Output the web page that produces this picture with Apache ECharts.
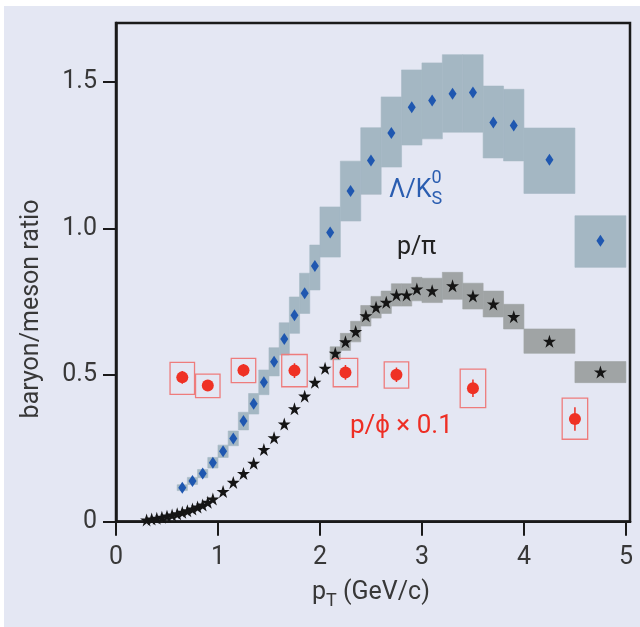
<!DOCTYPE html>
<html><head><meta charset="utf-8">
<script src="https://cdn.jsdelivr.net/npm/echarts@6/dist/echarts.min.js"></script>
<style>
html,body{margin:0;padding:0;background:#ffffff;width:640px;height:627px;overflow:hidden}
#c{position:absolute;left:4px;top:6px;width:636px;height:621px;background:#e4e7f3}
</style>
</head><body><div id="c"></div>
<script>
// ---------- data ----------
// Lambda / K0S (blue diamonds) with systematic boxes
const lamX    = [0.65,0.75,0.85,0.95,1.05,1.15,1.25,1.35,1.45,1.55,1.65,1.75,1.85,1.95,2.1,2.3,2.5,2.7,2.9,3.1,3.3,3.5,3.7,3.9,4.25,4.75];
const lamY    = [0.116,0.139,0.164,0.201,0.240,0.284,0.343,0.402,0.475,0.545,0.623,0.704,0.779,0.872,0.986,1.127,1.231,1.325,1.413,1.436,1.459,1.463,1.361,1.351,1.234,0.958];
const lamLo   = [0.106,0.127,0.150,0.183,0.219,0.259,0.313,0.367,0.433,0.497,0.568,0.642,0.710,0.790,0.902,1.025,1.116,1.209,1.284,1.305,1.328,1.328,1.240,1.230,1.119,0.867];
const lamHi   = [0.126,0.151,0.178,0.219,0.261,0.309,0.373,0.437,0.517,0.593,0.678,0.766,0.847,0.943,1.073,1.229,1.343,1.448,1.540,1.564,1.592,1.592,1.485,1.474,1.342,1.043];
const lamXErr = [0.05,0.05,0.05,0.05,0.05,0.05,0.05,0.05,0.05,0.05,0.05,0.05,0.05,0.05,0.1,0.1,0.1,0.1,0.1,0.1,0.1,0.1,0.1,0.1,0.25,0.25];

// p / pi (black stars)
const ppiX = [0.30,0.35,0.40,0.45,0.50,0.55,0.60,0.65,0.70,0.75,0.80,0.85,0.90,0.95,1.05,1.15,1.25,1.35,1.45,1.55,1.65,1.75,1.85,1.95,2.05,2.15,2.25,2.35,2.45,2.55,2.65,2.75,2.85,2.95,3.1,3.3,3.5,3.7,3.9,4.25,4.75];
const ppiY = [0.006,0.009,0.012,0.015,0.019,0.023,0.027,0.032,0.037,0.043,0.050,0.057,0.066,0.077,0.103,0.134,0.164,0.199,0.246,0.286,0.333,0.385,0.428,0.475,0.523,0.574,0.613,0.648,0.702,0.731,0.748,0.773,0.773,0.793,0.787,0.804,0.769,0.742,0.699,0.615,0.510];
// p / pi systematic boxes
const ppiSysX    = [2.15,2.25,2.35,2.45,2.55,2.65,2.75,2.85,2.95,3.1,3.3,3.5,3.7,3.9,4.25,4.75];
const ppiSysLo   = [0.552,0.584,0.613,0.667,0.694,0.710,0.735,0.735,0.753,0.747,0.758,0.725,0.698,0.657,0.574,0.474];
const ppiSysHi   = [0.596,0.642,0.683,0.737,0.768,0.786,0.811,0.811,0.833,0.830,0.850,0.813,0.786,0.741,0.657,0.546];
const ppiSysXErr = [0.05,0.05,0.05,0.05,0.05,0.05,0.05,0.05,0.05,0.1,0.1,0.1,0.1,0.1,0.25,0.25];

// p / phi x 0.1 (red circles)
const phiX     = [0.65,0.90,1.25,1.75,2.25,2.75,3.5,4.5];
const phiY     = [0.492,0.464,0.516,0.515,0.509,0.501,0.455,0.350];
const phiStat  = [0.022,0.015,0.022,0.025,0.025,0.025,0.030,0.040];
const phiSysLo = [0.434,0.423,0.474,0.460,0.460,0.455,0.389,0.281];
const phiSysHi = [0.543,0.503,0.557,0.570,0.557,0.545,0.520,0.421];
const phiXErr  = [0.12,0.12,0.12,0.125,0.12,0.12,0.125,0.125];

const xTicks = [0,1,2,3,4,5];
const yTicks = [0,0.5,1.0,1.5];

// ---------- chart ----------
const OX = 4, OY = 6; // div offset in page
const FONT = 'Roboto, "Liberation Sans", sans-serif';
const chart = echarts.init(document.getElementById('c'), null, {renderer:'canvas'});

function boxSeries(data, fill, stroke, lw) {
  return {
    type: 'custom', clip: true, z: 1, silent: true,
    encode: {x: 0, y: [1, 2]},
    data: data,
    renderItem: function (params, api) {
      const x = api.value(0), lo = api.value(1), hi = api.value(2), hw = api.value(3);
      const p1 = api.coord([x - hw, hi]);
      const p2 = api.coord([x + hw, lo]);
      return {
        type: 'rect',
        shape: {x: p1[0], y: p1[1], width: p2[0] - p1[0], height: p2[1] - p1[1]},
        style: stroke ? {fill: 'none', stroke: stroke, lineWidth: lw} : {fill: fill, stroke: fill, lineWidth: 0.6}
      };
    }
  };
}

const lamBox = lamX.map((x, i) => [x, lamLo[i], lamHi[i], lamXErr[i]]);
const ppiBox = ppiSysX.map((x, i) => [x, ppiSysLo[i], ppiSysHi[i], ppiSysXErr[i]]);
const phiBox = phiX.map((x, i) => [x, phiSysLo[i], phiSysHi[i], phiXErr[i]]);
const phiErr = phiX.map((x, i) => [x, phiY[i] - phiStat[i], phiY[i] + phiStat[i]]);

const STAR = 'path://M50,0 L61.2,34.5 L97.6,34.5 L68.2,55.9 L79.4,90.5 L50,69.1 L20.6,90.5 L31.8,55.9 L2.4,34.5 L38.8,34.5 Z';

// text helper (measures with canvas so sub/superscripts can be placed)
const mctx = document.createElement('canvas').getContext('2d');
function tw(t, size) { mctx.font = size + 'px ' + FONT; return mctx.measureText(t).width; }
function runText(parts, x0, base, color) {
  const els = [];
  let x = x0;
  parts.forEach(p => {
    const size = p.size, b = base + (p.dy || 0);
    const px = (p.x !== undefined) ? p.x : x;
    els.push({
      type: 'text', x: px - OX, y: b - 0.34 * size - OY, z: 100, silent: true,
      style: {text: p.t, fontSize: size, fontFamily: FONT, fill: p.color || color, align: 'left', verticalAlign: 'middle'}
    });
    if (!p.noAdvance) x = px + tw(p.t, size);
  });
  return els;
}

let graphics = [];
// y axis title
graphics.push({
  type: 'text', x: 32 - OX, y: 309 - OY, rotation: Math.PI / 2, z: 100, silent: true,
  style: {text: 'baryon/meson ratio', fontSize: 25, fontFamily: FONT, fill: '#383838', align: 'center', verticalAlign: 'middle'}
});
// x axis title: p_T (GeV/c)
graphics = graphics.concat(runText([
  {t: 'p', size: 25},
  {t: 'T', size: 18, dy: 6},
  {t: ' (GeV/c)', size: 25}
], 312, 601.5, '#383838'));
// Lambda/K0S label
graphics = graphics.concat(runText([
  {t: 'Λ/K', size: 25},
  {t: '0', size: 18, dy: -15, noAdvance: true},
  {t: 'S', size: 18, dy: 6}
], 389, 199.5, '#2a5db0'));
// p/pi label
graphics = graphics.concat(runText([{t: 'p/π', size: 25}], 397, 256, '#222222'));
// p/phi label
graphics = graphics.concat(runText([{t: 'p/ϕ × 0.1', size: 26}], 350, 435, '#ee2e24'));

const option = {
  animation: false,
  backgroundColor: 'transparent',
  grid: {left: 112, top: 17, right: 10, bottom: 105.3, show: true, borderColor: '#1a1a1a', borderWidth: 2.5, backgroundColor: 'transparent'},
  xAxis: {
    type: 'value', min: 0, max: 5.04,
    axisLine: {show: true, onZero: false, lineStyle: {color: '#1a1a1a', width: 2.5}},
    axisTick: {show: true, inside: false, length: 14, lineStyle: {color: '#1a1a1a', width: 2}, customValues: xTicks},
    axisLabel: {customValues: xTicks, fontSize: 25, fontFamily: FONT, color: '#383838', margin: 24, formatter: v => String(v)},
    splitLine: {show: false}
  },
  yAxis: {
    type: 'value', min: 0, max: 1.7,
    axisLine: {show: true, onZero: false, lineStyle: {color: '#1a1a1a', width: 2.5}},
    axisTick: {show: true, inside: false, length: 13, lineStyle: {color: '#1a1a1a', width: 2}, customValues: yTicks},
    axisLabel: {customValues: yTicks, fontSize: 25, fontFamily: FONT, color: '#383838', margin: 19, formatter: v => v === 0 ? '0' : v.toFixed(1)},
    splitLine: {show: false}
  },
  series: [
    boxSeries(lamBox, '#a4b7c3'),
    boxSeries(ppiBox, '#a0a4a5'),
    boxSeries(phiBox, null, '#ee7c7c', 1.3),
    {
      type: 'custom', clip: true, z: 2, silent: true,
      encode: {x: 0, y: [1, 2]},
      data: phiErr,
      renderItem: function (params, api) {
        const a = api.coord([api.value(0), api.value(1)]);
        const b = api.coord([api.value(0), api.value(2)]);
        return {type: 'line', shape: {x1: a[0], y1: a[1], x2: b[0], y2: b[1]}, style: {stroke: '#ee2e24', lineWidth: 1.5}};
      }
    },
    {type: 'scatter', z: 3, silent: true, symbol: 'diamond', symbolSize: [8, 12], itemStyle: {color: '#1f57b0', opacity: 1},
     data: lamX.map((x, i) => [x, lamY[i]])},
    {type: 'scatter', z: 3, silent: true, symbol: STAR, symbolSize: 13, itemStyle: {color: '#151515', opacity: 1},
     data: ppiX.map((x, i) => [x, ppiY[i]])},
    {type: 'scatter', z: 3, silent: true, symbol: 'circle', symbolSize: 12, itemStyle: {color: '#ef3124', opacity: 1},
     data: phiX.map((x, i) => [x, phiY[i]])}
  ],
  graphic: graphics
};
chart.setOption(option);
</script>
</body></html>
